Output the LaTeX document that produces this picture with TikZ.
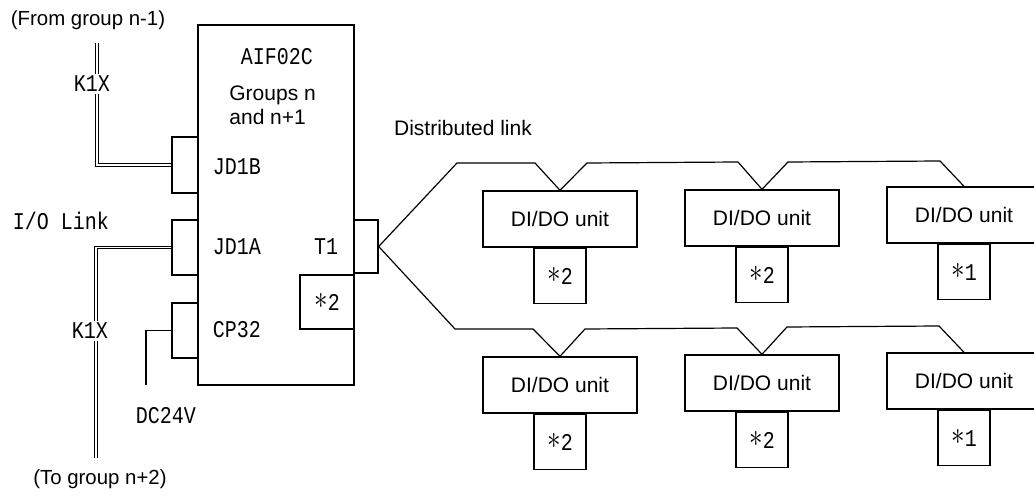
\documentclass[tikz,border=0pt]{standalone}
\usepackage{fontspec}
\setmainfont{Liberation Sans}
\newfontfamily\monofont{Liberation Mono}
\newcommand{\mtxt}[1]{\scalebox{1}[1.2]{#1}}
\newcommand{\astx}{\raisebox{0.1ex}{\scalebox{1.35}{$\ast$}}}
\begin{document}
\begin{tikzpicture}[x=0.5pt,y=-0.5pt,
  box/.style={draw, line width=0.7pt, inner sep=0pt},
  wire/.style={line width=0.6pt},
  dbl/.style={double, double distance=0.55pt, line width=0.5pt},
  mono/.style={font=\monofont\fontsize{10}{12}\selectfont, inner sep=1pt},
  sans/.style={font=\fontsize{10.5}{12.6}\selectfont, inner sep=0pt},
  unit/.style={box, sans, minimum width=77pt, minimum height=28pt},
  note/.style={box, mono, minimum width=26pt, minimum height=27.5pt, anchor=north},
]
\useasboundingbox (0,0) rectangle (1034,497);
\clip (0,0) rectangle (1034,497);

% main module
\node[box, minimum width=78pt, minimum height=180pt] (main) at (276,205) {};
\node[box, minimum width=13pt, minimum height=28pt] (jd1b) at (185,165) {};
\node[box, minimum width=13pt, minimum height=27.5pt] (jd1a) at (185,247.5) {};
\node[box, minimum width=13pt, minimum height=27.5pt] (cp32) at (185,330.5) {};
\node[box, minimum width=12pt, minimum height=26.5pt] (t1) at (366,246.5) {};
\node[box, mono, minimum width=27pt, minimum height=27pt] (s0) at (327,302) {\mtxt{\astx2}};

\node[mono] (aif) at (277,57) {\mtxt{AIF02C}};
\node[sans, anchor=west] (grp1) at (229,95) {Groups n};
\node[sans, anchor=west] (grp2) at (229,117) {and n+1};
\node[mono] (ljd1b) at (237,167) {\mtxt{JD1B}};
\node[mono] (ljd1a) at (237,247) {\mtxt{JD1A}};
\node[mono] (lt1) at (326,247) {\mtxt{T1}};
\node[mono] (lcp32) at (237,330) {\mtxt{CP32}};

% left side
\node[sans, font=\fontsize{10.2}{12}\selectfont] (from) at (88,20) {(From group n-1)};
\node[sans, font=\fontsize{10.2}{12}\selectfont] (to) at (100,479) {(To group n+2)};
\node[mono] (iolink) at (61,221) {\mtxt{I/O Link}};

\coordinate (k1top) at (97,43);
\coordinate (k1bot) at (96,458);
\coordinate (dcend) at (146,385);
\draw[dbl] (k1top) |- (jd1b.west);
\draw[dbl] (jd1a.west) -| (k1bot);
\draw[wire] (cp32.west) -| (dcend);
\node[mono, fill=white] (k1xa) at (92,84) {\mtxt{K1X}};
\node[mono, fill=white] (k1xb) at (90,331) {\mtxt{K1X}};
\node[mono] (dc) at (166,416) {\mtxt{DC24V}};

% distributed link
\node[sans] (dist) at (463,128) {Distributed link};

\node[unit] (u1) at (560,219) {DI/DO unit};
\node[unit] (u2) at (762,218) {DI/DO unit};
\node[unit] (u3) at (964,215) {DI/DO unit};
\node[note] (n1) at (u1.south) {\mtxt{\astx2}};
\node[note] (n2) at (u2.south) {\mtxt{\astx2}};
\node[note] (n3) at (u3.south) {\mtxt{\astx1}};

\node[unit] (l1) at (560,385) {DI/DO unit};
\node[unit] (l2) at (762,383) {DI/DO unit};
\node[unit] (l3) at (964,381) {DI/DO unit};
\node[note] (m1) at (l1.south) {\mtxt{\astx2}};
\node[note] (m2) at (l2.south) {\mtxt{\astx2}};
\node[note] (m3) at (l3.south) {\mtxt{\astx1}};

\draw[wire] (t1.east) -- (457,163) -- (535,163) -- (u1.north) -- (587,163)
  -- (738,162) -- (u2.north) -- (788,162) -- (940,161) -- (u3.north);
\draw[wire] (t1.east) -- (455,329) -- (533,329) -- (l1.north) -- (585,329)
  -- (737,328) -- (l2.north) -- (787,327) -- (939,326) -- (l3.north);
\end{tikzpicture}
\end{document}
